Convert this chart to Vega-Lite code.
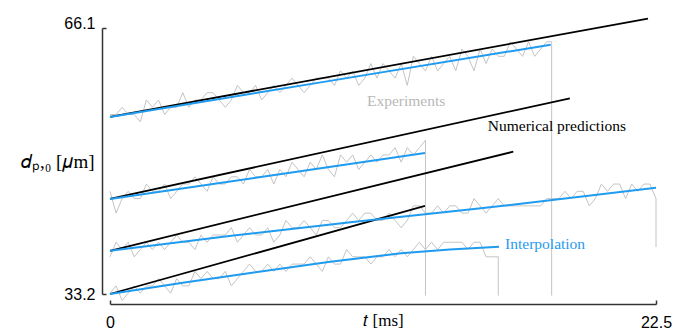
{
  "$schema": "https://vega.github.io/schema/vega-lite/v6.json",
  "width": 546,
  "height": 266,
  "autosize": {"type": "none"},
  "padding": {"left": 110, "top": 28, "right": 19, "bottom": 35},
  "background": "white",
  "config": {"view": {"stroke": null}},
  "datasets": {
    "exp": [
      {"s":"e1","t":0,"d":55.4},{"s":"e1","t":0.25,"d":55.4},{"s":"e1","t":0.5,"d":56.3},{"s":"e1","t":0.75,"d":55.4},{"s":"e1","t":1,"d":55.4},{"s":"e1","t":1.25,"d":54.5},{"s":"e1","t":1.5,"d":57.2},
      {"s":"e1","t":1.75,"d":56.3},{"s":"e1","t":2,"d":57.2},{"s":"e1","t":2.25,"d":55.4},{"s":"e1","t":2.5,"d":56.3},{"s":"e1","t":2.75,"d":56.3},{"s":"e1","t":3,"d":58.1},{"s":"e1","t":3.25,"d":56.3},
      {"s":"e1","t":3.5,"d":57.2},{"s":"e1","t":3.75,"d":57.2},{"s":"e1","t":4,"d":58.1},{"s":"e1","t":4.25,"d":58.1},{"s":"e1","t":4.5,"d":57.2},{"s":"e1","t":4.75,"d":56.3},{"s":"e1","t":5,"d":57.2},
      {"s":"e1","t":5.25,"d":59.0},{"s":"e1","t":5.5,"d":58.1},{"s":"e1","t":5.75,"d":58.1},{"s":"e1","t":6,"d":59.0},{"s":"e1","t":6.25,"d":57.2},{"s":"e1","t":6.5,"d":58.1},{"s":"e1","t":6.75,"d":59.0},{"s":"e1","t":7,"d":58.1},
      {"s":"e1","t":7.25,"d":59.0},{"s":"e1","t":7.5,"d":59.9},{"s":"e1","t":7.75,"d":59.0},{"s":"e1","t":8,"d":58.1},{"s":"e1","t":8.25,"d":59.0},{"s":"e1","t":8.5,"d":59.9},{"s":"e1","t":8.75,"d":59.9},
      {"s":"e1","t":9,"d":59.9},{"s":"e1","t":9.25,"d":59.0},{"s":"e1","t":9.5,"d":60.8},{"s":"e1","t":9.75,"d":59.9},{"s":"e1","t":10,"d":60.8},{"s":"e1","t":10.25,"d":59.0},{"s":"e1","t":10.5,"d":59.9},
      {"s":"e1","t":10.75,"d":61.7},{"s":"e1","t":11,"d":59.9},{"s":"e1","t":11.25,"d":61.7},{"s":"e1","t":11.5,"d":60.8},{"s":"e1","t":11.75,"d":59.9},{"s":"e1","t":12,"d":61.7},{"s":"e1","t":12.25,"d":59.0},
      {"s":"e1","t":12.5,"d":62.6},{"s":"e1","t":12.75,"d":61.7},{"s":"e1","t":13,"d":60.8},{"s":"e1","t":13.25,"d":62.6},{"s":"e1","t":13.5,"d":60.8},{"s":"e1","t":13.75,"d":61.7},{"s":"e1","t":14,"d":62.6},{"s":"e1","t":14.25,"d":60.8},
      {"s":"e1","t":14.5,"d":63.5},{"s":"e1","t":14.75,"d":62.6},{"s":"e1","t":15,"d":60.8},{"s":"e1","t":15.25,"d":63.5},{"s":"e1","t":15.5,"d":61.7},{"s":"e1","t":15.75,"d":63.5},{"s":"e1","t":16,"d":62.6},
      {"s":"e1","t":16.25,"d":62.6},{"s":"e1","t":16.5,"d":64.4},{"s":"e1","t":16.75,"d":63.5},{"s":"e1","t":17,"d":62.6},{"s":"e1","t":17.25,"d":64.4},{"s":"e1","t":17.5,"d":62.6},{"s":"e1","t":17.75,"d":63.5},
      {"s":"e1","t":18,"d":64.4},{"s":"e1","t":18.2,"d":64.4},{"s":"e1","t":18.2,"d":33.0},

      {"s":"e2","t":0,"d":45.9},{"s":"e2","t":0.25,"d":43.2},{"s":"e2","t":0.5,"d":45.0},{"s":"e2","t":0.75,"d":45.9},{"s":"e2","t":1,"d":45.0},
      {"s":"e2","t":1.25,"d":45.0},{"s":"e2","t":1.5,"d":46.8},{"s":"e2","t":1.75,"d":45.9},{"s":"e2","t":2,"d":45.9},{"s":"e2","t":2.25,"d":46.8},{"s":"e2","t":2.5,"d":45.0},{"s":"e2","t":2.75,"d":45.9},{"s":"e2","t":3,"d":46.8},
      {"s":"e2","t":3.25,"d":46.8},{"s":"e2","t":3.5,"d":47.7},{"s":"e2","t":3.75,"d":46.8},{"s":"e2","t":4,"d":45.9},{"s":"e2","t":4.25,"d":47.7},{"s":"e2","t":4.5,"d":46.8},{"s":"e2","t":4.75,"d":46.8},{"s":"e2","t":5,"d":47.7},
      {"s":"e2","t":5.25,"d":47.7},{"s":"e2","t":5.5,"d":46.8},{"s":"e2","t":5.75,"d":48.6},{"s":"e2","t":6,"d":47.7},{"s":"e2","t":6.25,"d":47.7},{"s":"e2","t":6.5,"d":48.6},{"s":"e2","t":6.75,"d":46.8},{"s":"e2","t":7,"d":48.6},{"s":"e2","t":7.25,"d":47.7},
      {"s":"e2","t":7.5,"d":49.5},{"s":"e2","t":7.75,"d":48.6},{"s":"e2","t":8,"d":47.7},{"s":"e2","t":8.25,"d":49.5},{"s":"e2","t":8.5,"d":48.6},{"s":"e2","t":8.75,"d":50.4},{"s":"e2","t":9,"d":48.6},{"s":"e2","t":9.25,"d":47.7},
      {"s":"e2","t":9.5,"d":50.4},{"s":"e2","t":9.75,"d":49.5},{"s":"e2","t":10,"d":50.4},{"s":"e2","t":10.25,"d":48.6},{"s":"e2","t":10.5,"d":49.5},{"s":"e2","t":10.75,"d":50.4},{"s":"e2","t":11,"d":49.5},{"s":"e2","t":11.25,"d":50.4},
      {"s":"e2","t":11.5,"d":50.4},{"s":"e2","t":11.75,"d":51.3},{"s":"e2","t":12,"d":49.5},{"s":"e2","t":12.25,"d":51.3},{"s":"e2","t":12.5,"d":50.4},{"s":"e2","t":12.75,"d":51.3},{"s":"e2","t":13,"d":52.2},{"s":"e2","t":13,"d":33.0},

      {"s":"e3","t":0,"d":37.8},{"s":"e3","t":0.25,"d":39.6},{"s":"e3","t":0.5,"d":38.7},{"s":"e3","t":0.75,"d":39.6},{"s":"e3","t":1,"d":37.8},{"s":"e3","t":1.25,"d":38.7},{"s":"e3","t":1.5,"d":39.6},{"s":"e3","t":1.75,"d":38.7},
      {"s":"e3","t":2,"d":39.6},{"s":"e3","t":2.25,"d":38.7},{"s":"e3","t":2.5,"d":39.6},{"s":"e3","t":2.75,"d":40.5},{"s":"e3","t":3,"d":39.6},{"s":"e3","t":3.25,"d":39.6},{"s":"e3","t":3.5,"d":38.7},{"s":"e3","t":3.75,"d":40.5},{"s":"e3","t":4,"d":39.6},{"s":"e3","t":4.25,"d":40.5},
      {"s":"e3","t":4.5,"d":40.5},{"s":"e3","t":4.75,"d":40.5},{"s":"e3","t":5,"d":41.4},{"s":"e3","t":5.25,"d":39.6},{"s":"e3","t":5.5,"d":40.5},{"s":"e3","t":5.75,"d":41.4},{"s":"e3","t":6,"d":40.5},{"s":"e3","t":6.25,"d":40.5},{"s":"e3","t":6.5,"d":41.4},{"s":"e3","t":6.75,"d":39.6},{"s":"e3","t":7,"d":40.5},
      {"s":"e3","t":7.25,"d":42.3},{"s":"e3","t":7.5,"d":41.4},{"s":"e3","t":7.75,"d":41.4},{"s":"e3","t":8,"d":42.3},{"s":"e3","t":8.25,"d":41.4},{"s":"e3","t":8.5,"d":40.5},{"s":"e3","t":8.75,"d":42.3},{"s":"e3","t":9,"d":42.3},{"s":"e3","t":9.25,"d":41.4},{"s":"e3","t":9.5,"d":41.4},
      {"s":"e3","t":9.75,"d":42.3},{"s":"e3","t":10,"d":43.2},{"s":"e3","t":10.25,"d":42.3},{"s":"e3","t":10.5,"d":43.2},{"s":"e3","t":10.75,"d":43.2},{"s":"e3","t":11,"d":42.3},{"s":"e3","t":11.25,"d":42.3},{"s":"e3","t":11.5,"d":43.2},{"s":"e3","t":11.75,"d":42.3},{"s":"e3","t":12,"d":41.4},{"s":"e3","t":12.25,"d":42.3},
      {"s":"e3","t":12.5,"d":44.1},{"s":"e3","t":12.75,"d":44.1},{"s":"e3","t":13,"d":43.2},{"s":"e3","t":13.25,"d":43.2},{"s":"e3","t":13.5,"d":44.1},{"s":"e3","t":13.75,"d":43.2},{"s":"e3","t":14,"d":44.1},{"s":"e3","t":14.25,"d":44.1},{"s":"e3","t":14.5,"d":43.2},{"s":"e3","t":14.75,"d":43.2},
      {"s":"e3","t":15,"d":45.0},{"s":"e3","t":15.25,"d":44.1},{"s":"e3","t":15.5,"d":43.2},{"s":"e3","t":15.75,"d":44.1},{"s":"e3","t":16,"d":45.0},{"s":"e3","t":16.25,"d":44.1},{"s":"e3","t":16.5,"d":44.1},{"s":"e3","t":16.75,"d":44.1},{"s":"e3","t":17,"d":44.1},{"s":"e3","t":17.25,"d":44.1},
      {"s":"e3","t":17.5,"d":44.1},{"s":"e3","t":17.75,"d":44.1},{"s":"e3","t":18,"d":45.0},{"s":"e3","t":18.25,"d":45.0},{"s":"e3","t":18.5,"d":45.0},{"s":"e3","t":18.75,"d":45.9},{"s":"e3","t":19,"d":45.0},{"s":"e3","t":19.25,"d":45.9},{"s":"e3","t":19.5,"d":45.9},{"s":"e3","t":19.75,"d":44.1},{"s":"e3","t":20,"d":45.0},
      {"s":"e3","t":20.25,"d":46.8},{"s":"e3","t":20.5,"d":45.9},{"s":"e3","t":20.75,"d":46.8},{"s":"e3","t":21,"d":46.8},{"s":"e3","t":21.25,"d":45.0},{"s":"e3","t":21.5,"d":46.8},{"s":"e3","t":21.75,"d":45.9},{"s":"e3","t":22,"d":46.8},{"s":"e3","t":22.25,"d":46.8},{"s":"e3","t":22.5,"d":45.0},{"s":"e3","t":22.5,"d":39.0},

      {"s":"e4","t":0,"d":33.3},{"s":"e4","t":0.25,"d":34.2},{"s":"e4","t":0.5,"d":32.4},{"s":"e4","t":0.75,"d":33.3},{"s":"e4","t":1,"d":34.2},{"s":"e4","t":1.25,"d":33.3},{"s":"e4","t":1.5,"d":34.2},
      {"s":"e4","t":1.75,"d":34.2},{"s":"e4","t":2,"d":35.1},{"s":"e4","t":2.25,"d":34.2},{"s":"e4","t":2.5,"d":33.3},{"s":"e4","t":2.75,"d":35.1},{"s":"e4","t":3,"d":34.2},{"s":"e4","t":3.25,"d":34.2},
      {"s":"e4","t":3.5,"d":36.0},{"s":"e4","t":3.75,"d":35.1},{"s":"e4","t":4,"d":36.0},{"s":"e4","t":4.25,"d":35.1},{"s":"e4","t":4.5,"d":35.1},{"s":"e4","t":4.75,"d":36.0},{"s":"e4","t":5,"d":34.2},{"s":"e4","t":5.25,"d":35.1},
      {"s":"e4","t":5.5,"d":36.0},{"s":"e4","t":5.75,"d":36.9},{"s":"e4","t":6,"d":36.0},{"s":"e4","t":6.25,"d":36.0},{"s":"e4","t":6.5,"d":36.9},{"s":"e4","t":6.75,"d":36.0},{"s":"e4","t":7,"d":36.9},{"s":"e4","t":7.25,"d":36.0},{"s":"e4","t":7.5,"d":36.9},
      {"s":"e4","t":7.75,"d":36.9},{"s":"e4","t":8,"d":36.9},{"s":"e4","t":8.25,"d":37.8},{"s":"e4","t":8.5,"d":36.9},{"s":"e4","t":8.75,"d":36.0},{"s":"e4","t":9,"d":37.8},{"s":"e4","t":9.25,"d":36.9},{"s":"e4","t":9.5,"d":36.9},
      {"s":"e4","t":9.75,"d":38.7},{"s":"e4","t":10,"d":37.8},{"s":"e4","t":10.25,"d":37.8},{"s":"e4","t":10.5,"d":37.8},{"s":"e4","t":10.75,"d":36.9},{"s":"e4","t":11,"d":37.8},{"s":"e4","t":11.25,"d":37.8},{"s":"e4","t":11.5,"d":38.7},{"s":"e4","t":11.75,"d":37.8},{"s":"e4","t":12,"d":38.7},{"s":"e4","t":12.25,"d":37.8},
      {"s":"e4","t":12.5,"d":38.7},{"s":"e4","t":12.75,"d":39.6},{"s":"e4","t":13,"d":38.7},{"s":"e4","t":13.25,"d":39.6},{"s":"e4","t":13.5,"d":38.7},{"s":"e4","t":13.75,"d":39.6},{"s":"e4","t":14,"d":39.6},{"s":"e4","t":14.25,"d":39.6},{"s":"e4","t":14.5,"d":39.6},{"s":"e4","t":14.75,"d":38.7},{"s":"e4","t":15,"d":39.6},{"s":"e4","t":15.25,"d":39.6},{"s":"e4","t":15.5,"d":37.8},{"s":"e4","t":15.75,"d":37.8},{"s":"e4","t":16,"d":37.8},{"s":"e4","t":16,"d":33.0}
    ],
    "num": [
      {"s":"n1","t":0,"d":55.1},{"s":"n1","t":22.17,"d":67.26},
      {"s":"n2","t":0,"d":44.96},{"s":"n2","t":18.95,"d":57.4},
      {"s":"n3","t":0,"d":38.54},{"s":"n3","t":16.62,"d":50.8},
      {"s":"n4","t":0,"d":33.2},{"s":"n4","t":12.98,"d":44.1}
    ],
    "interp": [
      {"s":"b1","t":0,"d":55.1},{"s":"b1","t":9,"d":59.53},{"s":"b1","t":18.16,"d":64.04},
      {"s":"b2","t":0,"d":44.96},{"s":"b2","t":6.5,"d":47.8},{"s":"b2","t":12.98,"d":50.63},
      {"s":"b3","t":0,"d":38.54},{"s":"b3","t":5,"d":40.4},{"s":"b3","t":10,"d":42.1},{"s":"b3","t":15,"d":43.7},{"s":"b3","t":22.5,"d":46.33},
      {"s":"b4","t":0,"d":33.2},{"s":"b4","t":3,"d":34.6},{"s":"b4","t":6,"d":35.9},{"s":"b4","t":9,"d":37.15},{"s":"b4","t":12,"d":38.25},{"s":"b4","t":14,"d":38.7},{"s":"b4","t":16.03,"d":39.05}
    ],
    "labels": [
      {"label":"Experiments","t":10.59,"d":57.04,"kind":"exp"},
      {"label":"Numerical predictions","t":15.57,"d":53.96,"kind":"num"},
      {"label":"Interpolation","t":16.28,"d":39.38,"kind":"interp"}
    ]
  },
  "encoding": {
    "x": {
      "field": "t", "type": "quantitative",
      "scale": {"domain": [0, 22.5], "nice": false, "zero": false},
      "axis": {
        "title": "𝑡 [ms]", "values": [0, 22.5], "grid": false, "offset": 10,
        "labelExpr": "datum.value == 0 ? '0' : '22.5'",
        "domainColor": "#333333", "domainWidth": 1.5, "tickColor": "#333333", "tickWidth": 1.5, "tickSize": -4,
        "labelFont": "Liberation Sans", "labelFontSize": 16, "labelColor": "#000000", "labelPadding": 14, "labelFlush": false,
        "titleFont": "Liberation Serif", "titleFontSize": 17, "titleFontWeight": "normal", "titleColor": "#000000",
        "titleY": 21, "titleBaseline": "alphabetic"
      }
    },
    "y": {
      "field": "d", "type": "quantitative",
      "scale": {"domain": [33.2, 66.1], "nice": false, "zero": false},
      "axis": {
        "title": "𝑑ₚ,₀ [𝜇m]", "values": [33.2, 66.1], "grid": false, "offset": 8, "format": ".1f",
        "domainColor": "#333333", "domainWidth": 1.5, "tickColor": "#333333", "tickWidth": 1.5, "tickSize": -4,
        "labelFont": "Liberation Sans", "labelFontSize": 16, "labelColor": "#000000", "labelPadding": 11, "labelFlush": false,
        "labelBaseline": {"expr": "datum.value > 50 ? 'alphabetic' : 'middle'"},
        "titleFont": "Liberation Serif", "titleFontSize": 19, "titleFontWeight": "normal", "titleColor": "#000000",
        "titleAngle": 0, "titleAlign": "right", "titleBaseline": "middle", "titleX": -8, "titleY": 133
      }
    }
  },
  "layer": [
    {
      "data": {"name": "exp"},
      "mark": {"type": "line", "color": "#c4c4c4", "strokeWidth": 1, "interpolate": "linear"},
      "encoding": {"detail": {"field": "s"}, "order": {"value": null}}
    },
    {
      "data": {"name": "num"},
      "mark": {"type": "line", "color": "#000000", "strokeWidth": 1.8},
      "encoding": {"detail": {"field": "s"}}
    },
    {
      "data": {"name": "interp"},
      "mark": {"type": "line", "color": "#1f9bef", "strokeWidth": 2},
      "encoding": {"detail": {"field": "s"}}
    },
    {
      "data": {"name": "labels"},
      "mark": {"type": "text", "align": "left", "baseline": "middle", "font": "Liberation Serif", "fontSize": 15.5},
      "encoding": {
        "text": {"field": "label"},
        "color": {"field": "kind", "type": "nominal", "scale": {"domain": ["exp", "num", "interp"], "range": ["#b8b8b8", "#000000", "#1f9bef"]}, "legend": null}
      }
    }
  ]
}
